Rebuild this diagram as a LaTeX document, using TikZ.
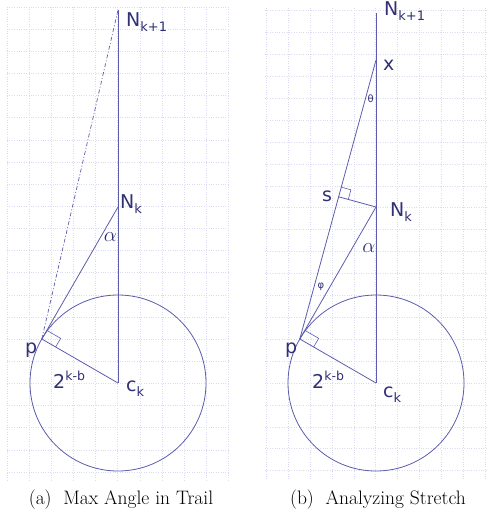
\documentclass[tikz,border=0pt]{standalone}
\usepackage{fontspec}
\usetikzlibrary{calc}
\newfontfamily\labfont{DejaVu Sans}
\definecolor{txtc}{RGB}{48,48,118}
\definecolor{linec}{RGB}{92,92,172}
\definecolor{gridc}{RGB}{218,218,242}
\newcommand{\subtx}[1]{\raisebox{-5pt}{\fontsize{13}{13}\selectfont #1}}
\newcommand{\suptx}[1]{\raisebox{8pt}{\fontsize{12.5}{13}\selectfont #1}}
\begin{document}
\begin{tikzpicture}[x=1pt,y=-1pt,
  lab/.style={anchor=base west,inner sep=0pt,text=txtc,font=\labfont\fontsize{19}{19}\selectfont},
  small/.style={anchor=center,inner sep=0pt,text=txtc,font=\labfont\fontsize{10}{10}\selectfont},
  gk/.style={anchor=center,inner sep=0pt,text=txtc,font=\fontsize{22}{22}\selectfont},
  ln/.style={draw=linec,line width=0.8pt},
  grd/.style={draw=gridc,line width=0.6pt,dash pattern=on 0.8pt off 1.6pt},
  captxt/.style={anchor=center,inner sep=0pt,text=black,font=\fontsize{19.5}{20}\selectfont}]
\useasboundingbox (0,0) rectangle (486,518);
% grids
\foreach \i in {0,...,10} {\draw[grd] (7+22.14*\i,7) -- (7+22.14*\i,480);}
\foreach \j in {0,...,21} {\draw[grd] (7,7+22.14*\j) -- (228,7+22.14*\j);}
\foreach \i in {-5,...,5} {\draw[grd] (375.7+21.9*\i,8) -- (375.7+21.9*\i,480);}
\foreach \j in {-4,...,17} {\draw[grd] (265,383-21.9*\j) -- (486,383-21.9*\j);}
% ---------- panel (a)
\coordinate (ca) at (118,383);
\coordinate (Nka) at (118,207);
\coordinate (Ta) at (118,10);
\coordinate (pa) at (41.8,339);
\draw[ln] (ca) circle (88);
\draw[ln] (Ta) -- (ca);
\draw[ln] (pa) -- (Nka);
\draw[ln] (pa) -- (ca);
\draw[draw=linec,line width=0.7pt,dash pattern=on 4pt off 2pt on 1pt off 2pt] (pa) -- (Ta);
\coordinate (ra1) at ($(pa)!16pt!(ca)$);
\coordinate (ra2) at ($(pa)!10pt!(Nka)$);
\draw[ln,line width=0.6pt] (ra1) -- ($(ra1)+(ra2)-(pa)$) -- (ra2);
\node[lab] (lNk1a) at (126,27) {N\subtx{k+1}};
\node[lab] (lNka) at (120,209) {N\subtx{k}};
\node[gk] (lala) at (110.5,237.5) {$\alpha$};
\node[lab] (lpa) at (25,353) {p};
\node[lab] (lra) at (53,388) {2\suptx{k-b}};
\node[lab] (lca) at (126,391) {c\subtx{k}};
\node[captxt] (capa) at (121,500) {(a)\hspace{0.6em}Max Angle in Trail};
% ---------- panel (b)
\coordinate (cb) at (376,383);
\coordinate (Nkb) at (376,207);
\coordinate (Tb) at (376,13);
\coordinate (xb) at (376,60);
\coordinate (pb) at (299.8,339);
\coordinate (sb) at ($(pb)!(Nkb)!(xb)$);
\draw[ln] (cb) circle (88);
\draw[ln] (Tb) -- (cb);
\draw[ln] (pb) -- (xb);
\draw[ln] (pb) -- (Nkb);
\draw[ln] (pb) -- (cb);
\draw[ln] (sb) -- (Nkb);
\coordinate (rb1) at ($(pb)!16pt!(cb)$);
\coordinate (rb2) at ($(pb)!10pt!(Nkb)$);
\draw[ln,line width=0.6pt] (rb1) -- ($(rb1)+(rb2)-(pb)$) -- (rb2);
\coordinate (rs1) at ($(sb)!10pt!(xb)$);
\coordinate (rs2) at ($(sb)!10pt!(Nkb)$);
\draw[ln,line width=0.6pt] (rs1) -- ($(rs1)+(rs2)-(sb)$) -- (rs2);
\node[lab] (lNk1b) at (384,16) {N\subtx{k+1}};
\node[lab] (lxb) at (383,70.5) {x};
\node[small] (lthb) at (370.7,98.3) {θ};
\node[lab] (lsb) at (322,201.5) {s};
\node[lab] (lNkb) at (390,217) {N\subtx{k}};
\node[gk] (lalb) at (369,248) {$\alpha$};
\node[small] (lphb) at (320.8,287) {φ};
\node[lab] (lpb) at (285,353) {p};
\node[lab] (lrb) at (312,388) {2\suptx{k-b}};
\node[lab] (lcb) at (383,397) {c\subtx{k}};
\node[captxt] (capb) at (378,500) {(b)\hspace{0.6em}Analyzing Stretch};
\end{tikzpicture}
\end{document}
